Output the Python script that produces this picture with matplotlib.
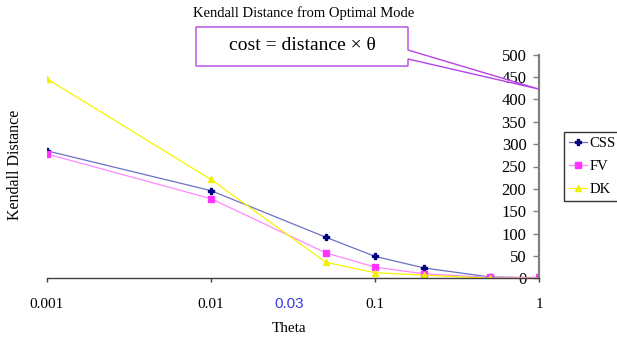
import matplotlib
matplotlib.use("Agg")
import matplotlib.pyplot as plt
from matplotlib.patches import Polygon

plt.rcParams["font.family"] = ["Liberation Serif", "DejaVu Serif"]

theta = [0.001, 0.01, 0.05, 0.1, 0.2, 0.5, 1.0]
css = [285, 196, 92, 49, 23, 3, 1]
fv = [278, 178, 57, 25, 10, 2, 2]
dk = [446, 221, 36, 12.5, 7, 0, 0]

x_ticks = [0.001, 0.01, 0.1, 1]
x_tick_labels = ["0.001", "0.01", "0.1", "1"]
y_ticks = list(range(0, 501, 50))

W, H = 617, 337
fig = plt.figure(figsize=(W / 100, H / 100), dpi=100)


def fx(px):
    return px / W


def fy(py):
    return 1 - py / H


ax = fig.add_axes([fx(47), fy(278.3), fx(539) - fx(47), fy(54.7) - fy(278.3)])

ax.plot(theta, css, color="#6a72c4", lw=0.9, marker="P", ms=4,
        mfc="#000080", mec="#000080", label="CSS")
ax.plot(theta, fv, color="#ff88ff", lw=0.9, marker="s", ms=4,
        mfc="#ff33ff", mec="#ff33ff", label="FV")
ax.plot(theta, dk, color="#f5f500", lw=0.9, marker="^", ms=4.5,
        mfc="#f0f000", mec="#f0f000", label="DK")

ax.set_xscale("log")
ax.set_xlim(0.001, 1)
ax.set_ylim(0, 500)
ax.set_xticks(x_ticks)
ax.set_xticklabels(x_tick_labels)
ax.xaxis.set_minor_locator(matplotlib.ticker.NullLocator())
ax.set_yticks(y_ticks)

ax.spines["top"].set_visible(False)
ax.spines["right"].set_visible(False)
ax.spines["left"].set_position(("axes", 1.0))
ax.spines["left"].set_color("#808080")
ax.spines["left"].set_linewidth(1.6)
ax.spines["bottom"].set_color("#404040")
ax.spines["bottom"].set_linewidth(1.0)
ax.tick_params(axis="y", direction="out", length=4, width=1, color="#808080",
               labelsize=12, pad=5)
ax.tick_params(axis="x", direction="out", length=3, width=1, color="#404040",
               labelsize=11, pad=11)
for lab in ax.get_xticklabels() + ax.get_yticklabels():
    lab.set_clip_on(False)

# extra blue label at theta = 0.03
ax.text(0.03, -0.113, "0.03", transform=ax.get_xaxis_transform(),
        ha="center", va="center", fontsize=11, color="#3a3ae0",
        family=["Liberation Sans", "DejaVu Sans"])

fig.text(fx(304), fy(13), "Kendall Distance from Optimal Mode",
         ha="center", va="center", fontsize=10.5)
fig.text(fx(15), fy(165), "Kendall Distance", rotation=90,
         ha="center", va="center", fontsize=11.5)
fig.text(fx(289), fy(328), "Theta", ha="center", va="center", fontsize=11)

leg = ax.legend(loc="upper left", bbox_to_anchor=(fx(564), fy(132)),
                bbox_transform=fig.transFigure, borderaxespad=0,
                frameon=True, fancybox=False, fontsize=10.5,
                handlelength=1.25, handletextpad=0.15, borderpad=0.35,
                labelspacing=0.65)
leg.get_frame().set_edgecolor("black")
leg.get_frame().set_linewidth(1.0)

# callout box pointing at the chart
tip_disp = ax.transData.transform((1.0, 423))
tip = fig.transFigure.inverted().transform(tip_disp)
callout = Polygon(
    [(fx(196), fy(27)), (fx(408), fy(27)), (fx(408), fy(50)), tuple(tip),
     (fx(408), fy(59)), (fx(408), fy(66)), (fx(196), fy(66))],
    closed=True, transform=fig.transFigure, facecolor="white",
    edgecolor="#b543e6", linewidth=1.0, zorder=5)
fig.add_artist(callout)
fig.text(fx(302), fy(46), "cost = distance × θ", ha="center", va="center",
         fontsize=14, zorder=6)

fig.savefig("out.png", dpi=100)
